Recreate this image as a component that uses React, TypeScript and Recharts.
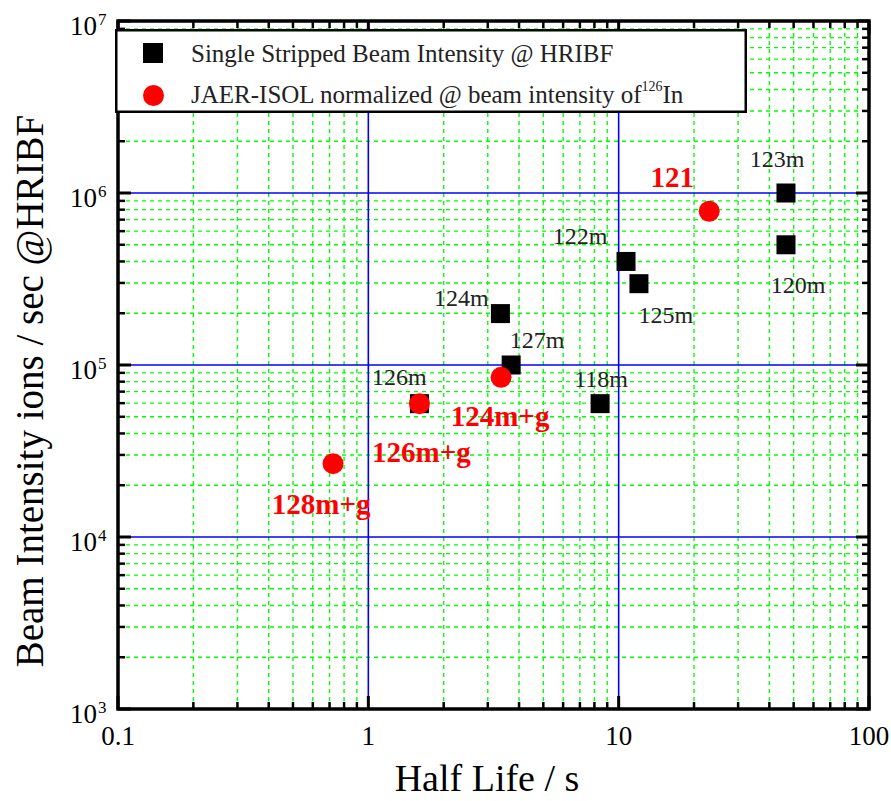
import React from 'react';
import { ScatterChart, Scatter, XAxis, YAxis, ReferenceLine, ReferenceArea } from 'recharts';

// Single stripped beam intensity @ HRIBF
const hribfNames = ['123m', '120m', '122m', '125m', '124m', '127m', '118m', '126m'];
const hribfHalfLife = [46.6, 46.6, 10.7, 12.05, 3.37, 3.72, 8.43, 1.6];
const hribfIntensity = [1.0e6, 5.0e5, 4.0e5, 2.97e5, 1.99e5, 1.0e5, 5.96e4, 5.96e4];

// JAER-ISOL normalized @ beam intensity of 126In
const jaerNames = ['121', '124m+g', '126m+g', '128m+g'];
const jaerHalfLife = [23.0, 3.39, 1.6, 0.723];
const jaerIntensity = [7.83e5, 8.48e4, 5.96e4, 2.67e4];

const xDecades = [0.1, 1, 10, 100];
const xTickLabels = ['0.1', '1', '10', '100'];
const yDecades = [1e3, 1e4, 1e5, 1e6, 1e7];
const yExponents = ['3', '4', '5', '6', '7'];
const minorSteps = [2, 3, 4, 5, 6, 7, 8, 9];

const seriesNames = [
  'Single Stripped Beam Intensity @ HRIBF',
  'JAER-ISOL normalized @ beam intensity of',
];

const FONT = '"Liberation Serif", "Times New Roman", serif';
const W = 891;
const H = 801;
const PLOT_W = 751;
const PLOT_H = 688;

const withMinors = (decades: number[]) =>
  decades.slice(0, -1).flatMap(d => minorSteps.map(m => +(d * m).toPrecision(6)));

const xMinor = withMinors(xDecades);
const yMinor = withMinors(yDecades);
const xTicks = [...xDecades, ...xMinor].sort((a, b) => a - b);
const yTicks = [...yDecades, ...yMinor].sort((a, b) => a - b);

const hribfData = hribfNames.map((name, i) => ({ name, x: hribfHalfLife[i], y: hribfIntensity[i] }));
const jaerData = jaerNames.map((name, i) => ({ name, x: jaerHalfLife[i], y: jaerIntensity[i] }));

// where each point's text sits, relative to the marker centre
const labelOffsets: Record<string, [number, number]> = {
  '123m': [-9, -26],
  '120m': [12, 48],
  '122m': [-46, -17],
  '125m': [27, 39],
  '124m': [-39, -8],
  '127m': [26, -17],
  '118m': [1, -17],
  '126m': [-20, -19],
  '121': [-37, -24],
  '124m+g': [-1, 49],
  '126m+g': [2, 58],
  '128m+g': [-12, 50],
};

const findIdx = (arr: number[], v: number) => arr.findIndex(t => Math.abs(t - v) / t < 1e-6);

const XTick = (props: any) => {
  const { x, y, payload } = props;
  const idx = findIdx(xDecades, payload.value);
  const major = idx >= 0;
  const len = major ? 13 : 7;
  const sw = major ? 3 : 2.5;
  return (
    <g>
      <line x1={x} y1={y} x2={x} y2={y - len} stroke="#000" strokeWidth={sw} />
      <line x1={x} y1={y - PLOT_H} x2={x} y2={y - PLOT_H + len} stroke="#000" strokeWidth={sw} />
      {major && (
        <text x={x} y={y + 36} textAnchor="middle" fontSize={27} fill="#000" fontFamily={FONT}>
          {xTickLabels[idx]}
        </text>
      )}
    </g>
  );
};

const YTick = (props: any) => {
  const { x, y, payload } = props;
  const idx = findIdx(yDecades, payload.value);
  const major = idx >= 0;
  const len = major ? 13 : 7;
  const sw = major ? 3 : 2.5;
  return (
    <g>
      <line x1={x} y1={y} x2={x + len} y2={y} stroke="#000" strokeWidth={sw} />
      <line x1={x + PLOT_W} y1={y} x2={x + PLOT_W - len} y2={y} stroke="#000" strokeWidth={sw} />
      {major && (
        <g fontFamily={FONT} fill="#000">
          <text x={x - 21} y={y + 14} textAnchor="end" fontSize={27}>10</text>
          <text x={x - 20} y={y + 4} textAnchor="start" fontSize={17}>{yExponents[idx]}</text>
        </g>
      )}
    </g>
  );
};

const SquareShape = (props: any) => {
  const { cx, cy, payload } = props;
  const [dx, dy] = labelOffsets[payload.name] || [0, -20];
  return (
    <g>
      <rect x={cx - 9.5} y={cy - 9.5} width={19} height={19} fill="#000" />
      <text x={cx + dx} y={cy + dy} textAnchor="middle" fontSize={24} fill="#222" fontFamily={FONT}>
        {payload.name}
      </text>
    </g>
  );
};

const CircleShape = (props: any) => {
  const { cx, cy, payload } = props;
  const [dx, dy] = labelOffsets[payload.name] || [0, -20];
  return (
    <g>
      <circle cx={cx} cy={cy} r={10.5} fill="#ff0000" />
      <text x={cx + dx} y={cy + dy} textAnchor="middle" fontSize={29} fontWeight="bold" fill="#ff0000" fontFamily={FONT}>
        {payload.name}
      </text>
    </g>
  );
};

const LegendBox = () => (
  <svg
    width={632}
    height={84}
    style={{ position: 'absolute', left: 115, top: 29 }}
    fontFamily={FONT}
  >
    <rect x={1.25} y={1.25} width={629.5} height={81.5} fill="#fff" stroke="#000" strokeWidth={2.5} />
    <rect x={28} y={14} width={20} height={20} fill="#000" />
    <circle cx={38.5} cy={66.5} r={10.5} fill="#ff0000" />
    <text x={76} y={33} fontSize={25} fill="#222">{seriesNames[0]}</text>
    <text x={76} y={74} fontSize={25} fill="#222">
      {seriesNames[1]}
      <tspan fontSize={14} dy={-12}>126</tspan>
      <tspan fontSize={25} dy={12}>In</tspan>
    </text>
  </svg>
);

export default function App() {
  return (
    <div style={{ position: 'absolute', left: 0, top: 0, width: W, height: H, fontFamily: FONT, background: '#fff' }}>
      <ScatterChart width={W} height={H} margin={{ top: 21, right: 22, bottom: 12, left: 18 }}>
        {xMinor.map(v => (
          <ReferenceLine key={`xm-${v}`} x={v} stroke="#00ff00" strokeWidth={1.4} strokeDasharray="4 4" />
        ))}
        {yMinor.map(v => (
          <ReferenceLine key={`ym-${v}`} y={v} stroke="#00ff00" strokeWidth={1.4} strokeDasharray="4 4" />
        ))}
        {xDecades.slice(1, -1).map(v => (
          <ReferenceLine key={`xM-${v}`} x={v} stroke="#0000ff" strokeWidth={1.6} />
        ))}
        {yDecades.slice(1, -1).map(v => (
          <ReferenceLine key={`yM-${v}`} y={v} stroke="#0000ff" strokeWidth={1.6} />
        ))}
        <ReferenceArea x1={0.1} x2={100} y1={1e3} y2={1e7} fill="none" stroke="#000" strokeWidth={3.5} />
        <XAxis
          type="number"
          dataKey="x"
          scale="log"
          domain={[0.1, 100]}
          ticks={xTicks}
          interval={0}
          allowDataOverflow
          height={80}
          tickSize={0}
          tickMargin={0}
          tickLine={false}
          axisLine={false}
          tick={<XTick />}
        />
        <YAxis
          type="number"
          dataKey="y"
          scale="log"
          domain={[1e3, 1e7]}
          ticks={yTicks}
          interval={0}
          allowDataOverflow
          width={100}
          tickSize={0}
          tickMargin={0}
          tickLine={false}
          axisLine={false}
          tick={<YTick />}
        />
        <Scatter name={seriesNames[0]} data={hribfData} shape={<SquareShape />} isAnimationActive={false} />
        <Scatter name={seriesNames[1]} data={jaerData} shape={<CircleShape />} isAnimationActive={false} />
        <text x={487} y={791} textAnchor="middle" fontSize={38} fill="#000" fontFamily={FONT}>
          Half Life / s
        </text>
        <text
          x={43}
          y={391}
          transform="rotate(-90 43 391)"
          textAnchor="middle"
          fontSize={39}
          fill="#000"
          fontFamily={FONT}
        >
          Beam Intensity ions / sec @HRIBF
        </text>
      </ScatterChart>
      <LegendBox />
    </div>
  );
}
